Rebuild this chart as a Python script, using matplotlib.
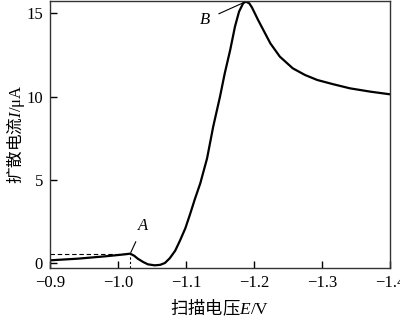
import numpy as np
import matplotlib.pyplot as plt

plt.rcParams['font.family'] = ['Liberation Serif', 'Noto Sans CJK SC']
plt.rcParams['mathtext.fontset'] = 'custom'
plt.rcParams['mathtext.it'] = 'Liberation Serif:italic'
plt.rcParams['mathtext.rm'] = 'Liberation Serif'

# sweep potential E / V and diffusion current I / uA
E = [-0.900, -0.941, -0.981, -1.003, -1.018, -1.024, -1.029, -1.037, -1.044,
     -1.054, -1.062, -1.069, -1.076, -1.084, -1.091, -1.099, -1.106, -1.113,
     -1.121, -1.131, -1.140, -1.150, -1.157, -1.165, -1.172, -1.178, -1.184,
     -1.188, -1.193, -1.197, -1.206, -1.215, -1.224, -1.238, -1.257, -1.275,
     -1.293, -1.316, -1.341, -1.371, -1.400]
I = [0.18, 0.28, 0.42, 0.51, 0.58, 0.45, 0.28, 0.08, -0.06,
     -0.12, -0.09, 0.02, 0.30, 0.75, 1.35, 2.10, 2.95, 3.85,
     4.80, 6.30, 8.20, 10.00, 11.40, 12.80, 14.20, 15.10, 15.60,
     15.70, 15.60, 15.35, 14.60, 13.90, 13.20, 12.40, 11.70, 11.30,
     11.00, 10.75, 10.50, 10.30, 10.14]
pointA = (-1.018, 0.58)
pointB = (-1.188, 15.70)

fig = plt.figure(figsize=(4, 3.2), dpi=100)
ax = fig.add_axes([0.125, 0.1625, 0.85, 0.835])

ax.plot(E, I, "-k", lw=1.6, solid_joinstyle="round", solid_capstyle="round")

# dashed guides to point A
ax.plot([-0.9, pointA[0]], [pointA[1], pointA[1]], "--k", lw=0.8, dashes=(4, 2.5))
ax.plot([pointA[0], pointA[0]], [-0.3, pointA[1]], "--k", lw=0.8, dashes=(2, 2))

ax.annotate("$A$", xy=pointA, xytext=(-1.037, 2.25), fontsize=12,
            ha="center", va="center",
            arrowprops=dict(arrowstyle="-", lw=0.8, color="k", shrinkA=4, shrinkB=1))
ax.annotate("$B$", xy=pointB, xytext=(-1.128, 14.6), fontsize=12,
            ha="center", va="center",
            arrowprops=dict(arrowstyle="-", lw=0.8, color="k", shrinkA=4, shrinkB=1))

ax.set_xlim(-0.9, -1.4)
ax.set_ylim(-0.28, 15.75)
ax.set_xticks([-0.9, -1.0, -1.1, -1.2, -1.3, -1.4])
ax.set_xticklabels(["\u22120.9", "\u22121.0", "\u22121.1", "\u22121.2", "\u22121.3", "\u22121.4"])
ax.set_yticks([0, 5, 10, 15])
ax.tick_params(direction="in", length=5, width=1, labelsize=12, pad=5)
for s in ax.spines.values():
    s.set_linewidth(1.0)
    s.set_color("#333333")

ax.set_xlabel(r"扫描电压$E\mathrm{/V}$", fontsize=12.5, labelpad=5,
              fontfamily="Noto Sans CJK SC")
ax.set_ylabel(r"扩散电流$I\mathrm{/μA}$", fontsize=12,
              fontfamily="Noto Sans CJK SC")
ax.yaxis.set_label_coords(-0.068, 0.5)

fig.savefig("out.png", dpi=100)
